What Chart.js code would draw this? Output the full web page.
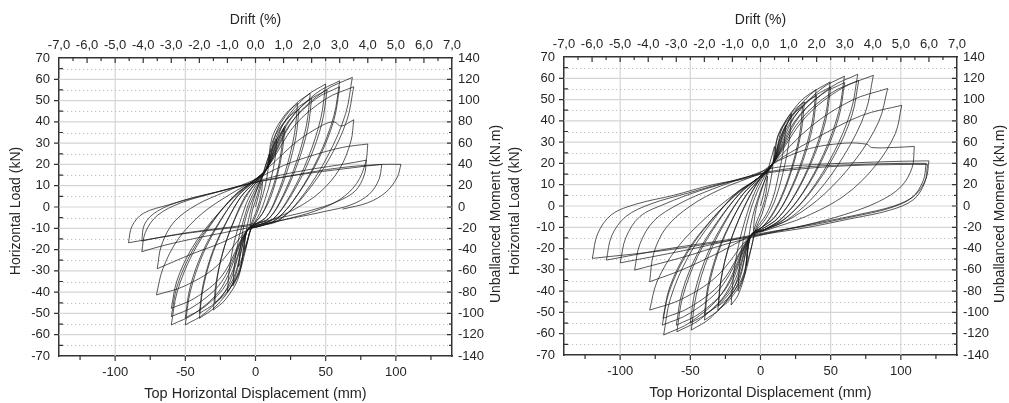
<!DOCTYPE html>
<html>
<head>
<meta charset="utf-8">
<script src="https://cdn.jsdelivr.net/npm/chart.js@4.4.0/dist/chart.umd.min.js"></script>
<style>
  body { margin: 0; background: #fff; }
  #wrap { position: relative; width: 1009px; height: 403px; }
  .box { position: absolute; top: 0; height: 403px; }
</style>
</head>
<body>
<div id="wrap">
  <div class="box" style="left:0;width:505px"><canvas id="chartA"></canvas></div>
  <div class="box" style="left:505px;width:504px"><canvas id="chartB"></canvas></div>
</div>
<script>
// axis ranges and titles
var dispRange = [-140, 140];      // mm
var driftRange = [-7, 7];         // %
var loadRange = [-70, 70];        // kN
var momentRange = [-140, 140];    // kN.m
var titleTop = 'Drift (%)';
var titleBottom = 'Top Horizontal Displacement (mm)';
var titleLeft = 'Horizontal Load (kN)';
var titleRight = 'Unballanced Moment (kN.m)';

// specimen A (left): half cycles, flat [disp, load, disp, load, ...]
var loopsA = [
  [0,0, 2,5, 4,10, 5,12],
  [5,12, 4.5,8, 3,3, 0,-3, -2,-6, -4,-10],
  [-4,-10, -3.5,-6, -2,-1, 1,5, 4,12, 7,19, 10,25],
  [10,25, 9,18, 7,10, 4,3, 1,-3, -3,-9, -5,-14, -8,-20],
  [-8,-20, -7,-13, -5,-6, -2,2, 2,10, 6,17, 10,25, 15,32],
  [15,32, 14,23, 11,13, 7,4, 3,-3, -3,-10, -6,-17, -9,-23, -12,-28],
  [-12,-28, -11,-20, -9,-11, -6,-3, -2,4, 5,14, 9,21, 14,30, 20,37],
  [20,37, 18.5,27, 15,15, 10,5, 5,-3, -3,-10, -7,-20, -11,-30, -16,-37],
  [-16,-37, -15,-27, -12,-15, -8,-5, -4,3, 3,12, 8,18, 14,28, 21,38],
  [21,38, 19.5,28, 16,16, 11,5, 5,-3, -3,-10, -7,-19, -13,-32, -20,-40],
  [-20,-40, -18.6,-29, -15,-16, -10,-5, -5,4, 3,13, 8,18, 12,33, 21.6,43.8, 30,48.7],
  [30,48.7, 27.9,35, 22.5,19.5, 15,4.9, 7.5,-4.9, 0,-8, -6,-11, -11.6,-30.6, -20.9,-40.5, -29,-45],
  [-29,-45, -27,-32.4, -21.8,-18, -14.5,-5.4, -7,4.5, 1,12, 8,18, 12.4,31.3, 22.3,41.4, 31,46],
  [31,46, 28.8,33, 23.3,18.4, 15.5,4.6, 7.8,-4.6, 0,-8, -6,-11, -12,-32.9, -21.6,-43.6, -30,-48.4],
  [-30,-48.4, -27.9,-34.8, -22.5,-19.4, -15,-5.8, -7.5,4.8, 1,12, 8,18, 15.6,36.3, 28,48, 39,53.4],
  [39,53.4, 36.3,38.4, 29.3,21.4, 19.5,5.3, 9.8,-5.3, 1,-8, -6,-11, -16,-35.6, -28.8,-47, -40,-52.3],
  [-40,-52.3, -37.2,-37.7, -30,-20.9, -20,-6.3, -10,5.2, 0,12, 8,18, 16,34.7, 28.8,45.9, 40,51],
  [40,51, 37.2,36.7, 30,20.4, 20,5.1, 10,-5.1, 1,-8, -6,-11, -16,-34, -28.8,-45, -40,-50],
  [-40,-50, -37.2,-36, -30,-20, -20,-6, -10,5, 0,12, 8,18, 20,39.3, 36,52, 50,57.8],
  [50,57.8, 46.5,41.6, 37.5,23.1, 25,5.8, 12.5,-5.8, 2,-8.5, -6,-11, -20,-37.7, -36,-49.9, -50,-55.4],
  [-50,-55.4, -46.5,-39.9, -37.5,-22.2, -25,-6.6, -12.5,5.5, -1,12, 8,18, 20.4,37.4, 36.7,49.5, 51,55],
  [51,55, 47.4,39.6, 38.3,22, 25.5,5.5, 12.8,-5.5, 2,-8.5, -6,-11, -20,-35.4, -36,-46.8, -50,-52],
  [-50,-52, -46.5,-37.4, -37.5,-20.8, -25,-6.2, -12.5,5.2, -1,12, 8,18, 24,40.3, 43.2,53.4, 60,59.3],
  [60,59.3, 55.8,42.7, 45,23.7, 30,5.9, 15,-5.9, 3,-9, -6,-11, -24,-37.7, -43.2,-49.9, -60,-55.4],
  [-60,-55.4, -55.8,-39.9, -45,-22.2, -30,-6.6, -15,5.5, -2,12, 8,18, 24,38.4, 43.2,50.9, 60,56.5],
  [60,56.5, 55.8,40.7, 45,22.6, 30,5.7, 15,-5.7, 3,-9, -6,-11, -24,-35, -43.2,-46.4, -60,-51.5],
  [-60,-51.5, -55.8,-37.1, -45,-20.6, -30,-6.2, -15,5.2, -2,12, 8,18, 27.6,41.4, 49.7,54.8, 69,60.9],
  [69,60.9, 64.2,43.8, 51.8,24.4, 34.5,6.1, 17.3,-6.1, 3,-9, -6,-11, -24,-32.4, -43.2,-42.8, -60,-47.6],
  [-60,-47.6, -55.8,-34.3, -45,-19, -30,-5.7, -15,4.8, -2,12, 8,18, 28,38.4, 50.4,50.9, 70,56.5],
  [70,56.5, 65.1,40.7, 52.5,22.6, 35,5.7, 17.5,-5.7, 3,-9, -6,-11, -28.2,-28.1, -50.8,-37.2, -70.6,-41.3],
  [-70.6,-41.3, -66,-29, -55,-15, -38,-3, -18,6, 0,13, 10,19, 30,31, 48,38.5, 56,40, 61,38, 70,41],
  [70,41, 68,31, 60,18, 46,7, 28,-1, 8,-7, -6,-11, -25,-17, -45,-22, -70,-29],
  [-70,-29, -67,-18, -58,-7, -42,1, -22,7, 0,13, 20,19.5, 42,24.5, 62,28, 80,29.6],
  [80,29.6, 78.5,21, 72,11, 60,3.5, 42,-2, 20,-6, 0,-9, -22,-12, -45,-15, -65,-18, -81,-21],
  [-81,-21, -78.5,-12, -70,-4, -53,2, -30,6.5, -5,11, 18,15, 42,18, 62,20, 79,22],
  [79,22, 77.5,15, 71,7.5, 58,2.5, 40,-1.5, 18,-5, -2,-8, -25,-10, -48,-12, -66,-14, -81,-16],
  [-81,-16, -79,-8, -70,-2, -52,3, -28,7, -4,11, 20,14, 45,17, 68,19, 90,20],
  [90,20, 88,13, 81,6, 68,1, 50,-2, 28,-5, 5,-8, -20,-10, -45,-12, -70,-14.5, -90.5,-16.8],
  [-90.5,-16.8, -88,-9, -80,-3, -62,1, -40,5, -15,9, 10,13, 40,16, 70,18.5, 90,20, 103.6,20],
  [103.6,20, 101,14, 93,7, 80,2, 62,-1]
];

// specimen B (right)
var loopsB = [
  [0,0, 2,5, 4,11, 5,14],
  [5,14, 4.5,9, 3,3, 0,-3, -2.5,-7, -5,-12],
  [-5,-12, -4.5,-7, -3,-1, 0,6, 4,14, 7,21, 10,28],
  [10,28, 9,20, 7,11, 4,3, 1,-4, -3,-10, -6,-18, -8,-23, -10,-28],
  [-10,-28, -9,-19, -7,-9, -4,-1, 0,7, 5,15, 9,21, 13,30, 18,38],
  [18,38, 16.5,27, 13,15, 9,4, 4,-4, -3,-11, -7,-21, -11,-32, -16,-40],
  [-16,-40, -15,-28, -12,-15, -8,-4, -4,4, 3,14, 9,20, 15,32, 22,43.4],
  [22,43.4, 20.5,31, 16.5,17, 11,4, 5.5,-4, -1,-10, -7,-14, -11,-31.6, -16,-41.9, -20.9,-46.5],
  [-20.9,-46.5, -19.4,-33.5, -15.7,-18.6, -10.5,-5.6, -5.2,4.7, 1,13, 9,20, 12.5,33.3, 22.5,44, 31.3,48.9],
  [31.3,48.9, 29.1,35.2, 23.5,19.6, 15.7,4.9, 7.8,-4.9, 1,-10, -7,-14, -12.2,-33.3, -21.9,-44, -30.4,-48.9],
  [-30.4,-48.9, -28.3,-35.2, -22.8,-19.6, -15.2,-5.9, -7.6,4.9, 0,13, 9,20, 12,32, 21.6,42.3, 30,47],
  [30,47, 27.9,33.8, 22.5,18.8, 15,4.7, 7.5,-4.7, 1,-10, -7,-14, -12,-32, -21.6,-42.3, -30,-47],
  [-30,-47, -27.9,-33.8, -22.5,-18.8, -15,-5.6, -7.5,4.7, 0,13, 9,20, 15.8,37.2, 28.5,49.2, 39.6,54.7],
  [39.6,54.7, 36.8,39.4, 29.7,21.9, 19.8,5.5, 9.9,-5.5, 1,-10, -7,-14, -16,-36.4, -28.7,-48.2, -39.9,-53.6],
  [-39.9,-53.6, -37.1,-38.6, -29.9,-21.4, -20,-6.4, -10,5.4, 0,13, 9,20, 16,35.4, 28.8,46.8, 40,52],
  [40,52, 37.2,37.4, 30,20.8, 20,5.2, 10,-5.2, 1,-10, -7,-14, -16,-34.7, -28.8,-45.9, -40,-51],
  [-40,-51, -37.2,-36.7, -30,-20.4, -20,-6.1, -10,5.1, 0,13, 9,20, 19.8,39.6, 35.7,52.5, 49.6,58.3],
  [49.6,58.3, 46.1,42, 37.2,23.3, 24.8,5.8, 12.4,-5.8, 2,-10.5, -7,-14, -19.7,-39.6, -35.5,-52.5, -49.3,-58.3],
  [-49.3,-58.3, -45.8,-42, -37,-23.3, -24.7,-7, -12.3,5.8, -1,13, 9,20, 20,38.1, 36,50.4, 50,56],
  [50,56, 46.5,40.3, 37.5,22.4, 25,5.6, 12.5,-5.6, 2,-10.5, -7,-14, -20,-37.4, -36,-49.5, -50,-55],
  [-50,-55, -46.5,-39.6, -37.5,-22, -25,-6.6, -12.5,5.5, -1,13, 9,20, 23.9,41.5, 43,54.9, 59.8,61],
  [59.8,61, 55.6,43.9, 44.9,24.4, 29.9,6.1, 15,-6.1, 3,-11, -7,-14, -23.8,-40.2, -42.9,-53.2, -59.6,-59.1],
  [-59.6,-59.1, -55.4,-42.6, -44.7,-23.6, -29.8,-7.1, -14.9,5.9, -2,13, 9,20, 24,39.4, 43.2,52.2, 60,58],
  [60,58, 55.8,41.8, 45,23.2, 30,5.8, 15,-5.8, 3,-11, -7,-14, -24,-38.1, -43.2,-50.4, -60,-56],
  [-60,-56, -55.8,-40.3, -45,-22.4, -30,-6.7, -15,5.6, -2,13, 9,20, 27.7,42.1, 49.9,55.7, 69.3,61.9],
  [69.3,61.9, 64.4,44.6, 52,24.8, 34.7,6.2, 17.3,-6.2, 3,-11, -7,-14, -27.6,-41.2, -49.7,-54.5, -69,-60.6],
  [-69,-60.6, -64.2,-43.6, -51.8,-24.2, -34.5,-7.3, -17.3,6.1, -2,13, 9,20, 28,40.1, 50.4,53.1, 70,59],
  [70,59, 65.1,42.5, 52.5,23.6, 35,5.9, 17.5,-5.9, 3,-11, -7,-14, -28,-38.1, -50.4,-50.4, -70,-56],
  [-70,-56, -65.1,-40.3, -52.5,-22.4, -35,-6.7, -17.5,5.6, -2,13, 9,20, 32.2,41.8, 57.9,55.3, 80.4,61.4],
  [80.4,61.4, 74.8,44.2, 60.3,24.6, 40.2,6.1, 20.1,-6.1, 4,-11, -7,-14, -27.8,-35.9, -50,-47.5, -69.5,-52.8],
  [-69.5,-52.8, -64.6,-38, -52.1,-21.1, -34.8,-6.3, -17.4,5.3, -2,13, 9,20, 36.2,37.5, 65.2,49.7, 90.6,55.2],
  [90.6,55.2, 84.3,39.7, 68,22.1, 45.3,5.5, 22.7,-5.5, 4,-11, -7,-14, -31.6,-33.3, -56.9,-44, -79,-48.9],
  [-79,-48.9, -73.5,-35.2, -59.3,-19.6, -39.5,-5.9, -19.8,4.9, -2,13, 9,20, 40,32, 72,42.5, 100.6,47.3],
  [100.6,47.3, 96,34, 82,19, 60,5, 32,-5, 6,-11, -7,-14, -30,-22, -56,-30, -79,-35.6],
  [-79,-35.6, -76,-22, -67,-10, -50,0, -28,8, -2,15, 12,21, 35,27, 60,29.5, 76,29, 79,27.5, 95,27.5, 109.6,28],
  [109.6,28, 108,18, 100,9, 84,2, 60,-4, 32,-9, 5,-13, -25,-18, -55,-24, -89.7,-30.1],
  [-89.7,-30.1, -86,-18, -76,-7, -58,1, -34,8, -8,14, 10,18, 40,19.5, 75,20.5, 100,21, 120,21.2],
  [120,21.2, 118,13, 110,5, 95,0, 70,-4, 40,-8, 10,-12, -20,-16, -55,-21, -99.9,-26.7],
  [-99.9,-26.7, -96,-15, -86,-5, -68,1, -44,7, -18,12, 5,16, 35,18.5, 70,19.5, 100,20, 118,20],
  [118,20, 116,12, 108,4, 92,-1, 66,-5, 36,-9, 8,-12, -25,-16, -65,-20, -109.8,-25.4],
  [-109.8,-25.4, -106,-14, -96,-5, -78,1, -52,6, -25,11, 0,15, 30,17.5, 65,19, 100,19.5, 119,19.5],
  [119,19.5, 117,11, 109,3, 92,-2, 64,-6, 34,-10, 5,-13, -30,-17, -70,-21, -119.8,-24.6],
  [-119.8,-24.6, -116,-13, -106,-4, -88,1, -62,5, -34,10, -10,13, 5,16]
];

var textColor = '#262626';
var fontFamily = 'Arial, "Liberation Sans", sans-serif';

// frame plugin: grid, tick marks, vertical titles
var framePlugin = {
  id: 'frame',
  beforeDatasetsDraw: function(chart) {
    var ctx = chart.ctx, a = chart.chartArea;
    var x = chart.scales.x, y = chart.scales.y;
    var v, p;
    ctx.save();
    ctx.lineWidth = 1.2;
    ctx.strokeStyle = '#d5d5d5';
    ctx.beginPath();
    for (v = -100; v <= 100; v += 50) {
      p = x.getPixelForValue(v);
      ctx.moveTo(p, a.top);
      ctx.lineTo(p, a.bottom);
    }
    for (v = -60; v <= 60; v += 10) {
      p = y.getPixelForValue(v);
      ctx.moveTo(a.left, p);
      ctx.lineTo(a.right, p);
    }
    ctx.stroke();
    ctx.lineWidth = 1;
    ctx.strokeStyle = '#bdbdbd';
    ctx.setLineDash([1.2, 2.8]);
    ctx.beginPath();
    for (v = -65; v <= 65; v += 10) {
      p = Math.round(y.getPixelForValue(v)) + 0.5;
      ctx.moveTo(a.left + 4, p);
      ctx.lineTo(a.right - 4, p);
    }
    ctx.stroke();
    ctx.restore();
  },
  afterDraw: function(chart, args, opts) {
    var ctx = chart.ctx, a = chart.chartArea, s = chart.scales;
    var v, p, len;
    ctx.save();
    ctx.strokeStyle = '#333';
    ctx.lineWidth = 1.2;
    ctx.beginPath();
    // bottom: outward
    for (v = -125; v <= 125; v += 25) {
      p = s.x.getPixelForValue(v);
      len = (v % 50 === 0) ? 5 : 4;
      ctx.moveTo(p, a.bottom);
      ctx.lineTo(p, a.bottom + len);
    }
    // top: inward
    for (v = -13; v <= 13; v += 1) {
      p = s.x2.getPixelForValue(v / 2);
      len = (v % 2 === 0) ? 5 : 3;
      ctx.moveTo(p, a.top);
      ctx.lineTo(p, a.top + len);
    }
    // left: major outward, minor inward
    for (v = -65; v <= 65; v += 5) {
      p = s.y.getPixelForValue(v);
      if (v % 10 === 0) {
        ctx.moveTo(a.left - 5, p);
        ctx.lineTo(a.left, p);
      } else {
        ctx.moveTo(a.left, p);
        ctx.lineTo(a.left + 4, p);
      }
    }
    // right: inward
    for (v = -130; v <= 130; v += 10) {
      p = s.y2.getPixelForValue(v);
      len = (v % 20 === 0) ? 5 : 3;
      ctx.moveTo(a.right - len, p);
      ctx.lineTo(a.right, p);
    }
    ctx.stroke();

    ctx.fillStyle = textColor;
    ctx.font = '14px ' + fontFamily;
    ctx.textAlign = 'center';
    ctx.textBaseline = 'middle';
    ctx.translate(opts.leftX, opts.leftY);
    ctx.rotate(-Math.PI / 2);
    ctx.fillText(titleLeft, 0, 0);
    ctx.setTransform(1, 0, 0, 1, 0, 0);
    ctx.translate(opts.rightX, opts.rightY);
    ctx.rotate(-Math.PI / 2);
    ctx.fillText(titleRight, 0, 0);
    ctx.restore();
  }
};

function toPoints(flat) {
  var pts = [];
  for (var i = 0; i < flat.length; i += 2) {
    pts.push({x: flat[i], y: flat[i + 1]});
  }
  return pts;
}

function buildChart(id, loops, box) {
  var tickFont = {family: fontFamily, size: 13};
  var titleFont = {family: fontFamily, size: 14};
  var datasets = loops.map(function(flat) {
    return {
      data: toPoints(flat),
      showLine: true,
      borderColor: 'rgba(25,25,25,0.72)',
      borderWidth: 1,
      pointRadius: 0,
      tension: 0.35,
      fill: false,
      xAxisID: 'x',
      yAxisID: 'y'
    };
  });

  return new Chart(document.getElementById(id), {
    type: 'line',
    data: {datasets: datasets},
    plugins: [framePlugin],
    options: {
      responsive: true,
      maintainAspectRatio: false,
      animation: false,
      events: [],
      layout: {padding: 0},
      plugins: {
        legend: {display: false},
        tooltip: {enabled: false},
        frame: {leftX: box.leftTitle, leftY: 211, rightX: box.rightTitle, rightY: 214}
      },
      scales: {
        x: {
          type: 'linear',
          position: 'bottom',
          min: dispRange[0],
          max: dispRange[1],
          grid: {display: false, drawTicks: false},
          border: {color: '#333', width: 1.5},
          ticks: {
            stepSize: 50,
            padding: 9,
            maxRotation: 0,
            autoSkip: false,
            color: textColor,
            font: tickFont,
            callback: function(value) {
              return value % 50 === 0 ? String(value) : null;
            }
          },
          title: {display: true, text: titleBottom, color: textColor, font: {family: fontFamily, size: 14.5}, padding: {top: 0, bottom: box.bottomTitlePad}},
          afterFit: function(scale) { scale.height = 403 - box.bottom; }
        },
        x2: {
          type: 'linear',
          position: 'top',
          min: driftRange[0],
          max: driftRange[1],
          grid: {display: false, drawTicks: false},
          border: {color: '#333', width: 1.5},
          ticks: {
            stepSize: 1,
            padding: 5,
            maxRotation: 0,
            autoSkip: false,
            color: textColor,
            font: tickFont,
            callback: function(value) {
              return Number(value).toFixed(1).replace('.', ',');
            }
          },
          title: {display: true, text: titleTop, color: textColor, font: titleFont, padding: {top: 11.5, bottom: 0}},
          afterFit: function(scale) { scale.height = box.top; }
        },
        y: {
          type: 'linear',
          position: 'left',
          min: loadRange[0],
          max: loadRange[1],
          grid: {display: false, drawTicks: false},
          border: {color: '#333', width: 1.5},
          ticks: {stepSize: 10, padding: 9, color: textColor, font: tickFont, autoSkip: false},
          afterFit: function(scale) { scale.width = box.left; }
        },
        y2: {
          type: 'linear',
          position: 'right',
          min: momentRange[0],
          max: momentRange[1],
          grid: {display: false, drawTicks: false},
          border: {color: '#333', width: 1.5},
          ticks: {stepSize: 20, padding: 6, color: textColor, font: tickFont, autoSkip: false},
          afterFit: function(scale) { scale.width = box.width - box.right; }
        }
      }
    }
  });
}

buildChart('chartA', loopsA, {width: 505, left: 59, right: 452, top: 58, bottom: 356, bottomTitlePad: 0, leftTitle: 16, rightTitle: 496});
buildChart('chartB', loopsB, {width: 504, left: 59, right: 452, top: 57, bottom: 355, bottomTitlePad: 1, leftTitle: 10, rightTitle: 495});
</script>
</body>
</html>
